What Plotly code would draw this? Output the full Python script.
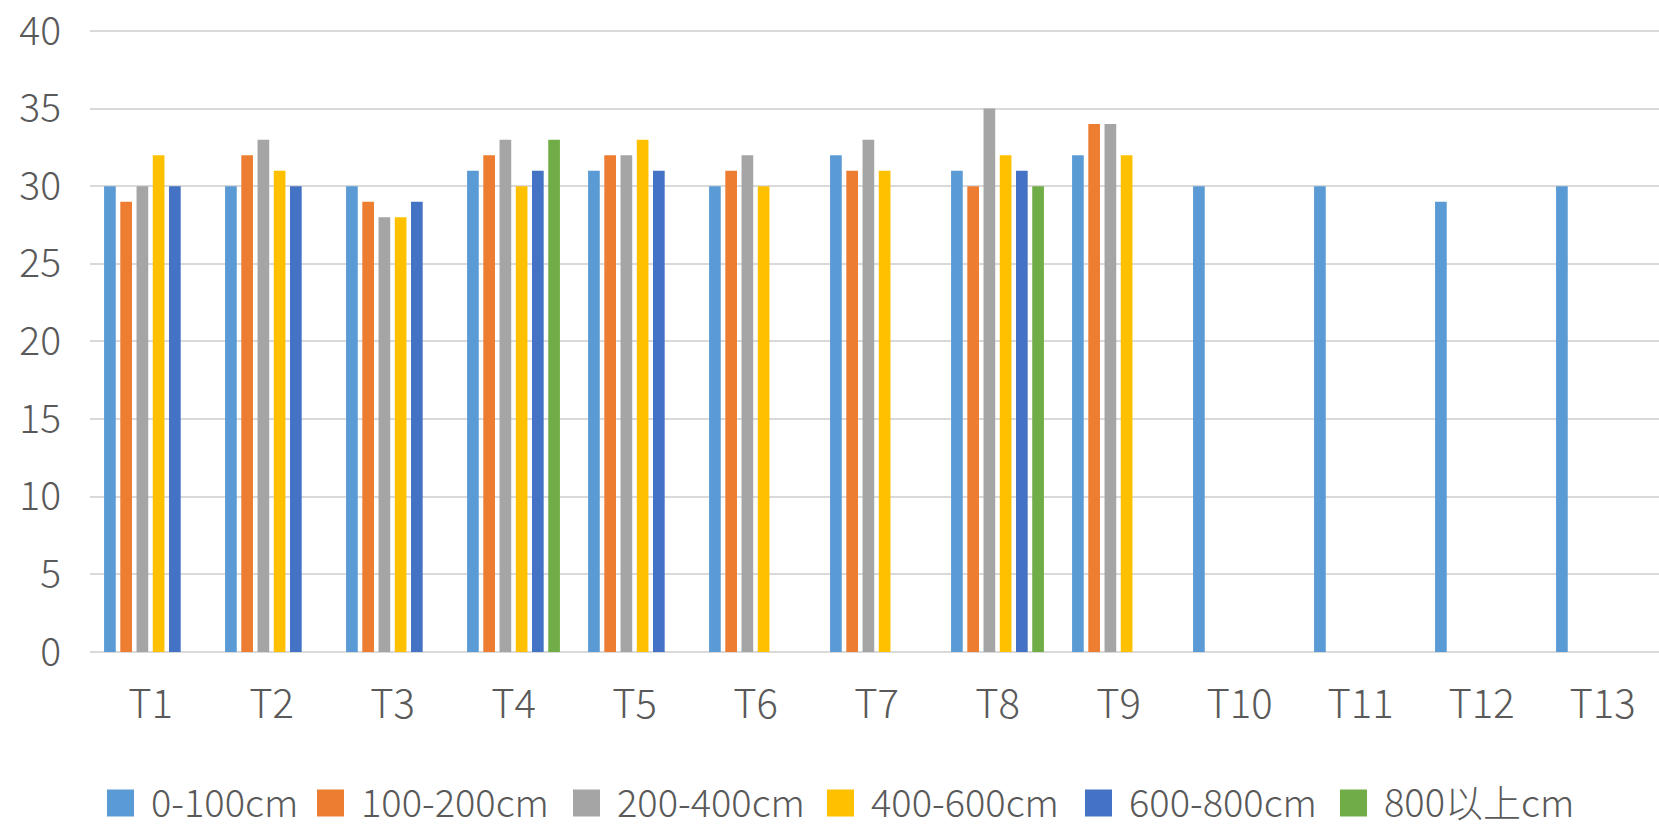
import plotly.graph_objects as go

categories = ["T1", "T2", "T3", "T4", "T5", "T6", "T7", "T8", "T9", "T10", "T11", "T12", "T13"]

s_0_100 = [30, 30, 30, 31, 31, 30, 32, 31, 32, 30, 30, 29, 30]
s_100_200 = [29, 32, 29, 32, 32, 31, 31, 30, 34, None, None, None, None]
s_200_400 = [30, 33, 28, 33, 32, 32, 33, 35, 34, None, None, None, None]
s_400_600 = [32, 31, 28, 30, 33, 30, 31, 32, 32, None, None, None, None]
s_600_800 = [30, 30, 29, 31, 31, None, None, 31, None, None, None, None, None]
s_800_up = [None, None, None, 33, None, None, None, 30, None, None, None, None, None]

series_names = ["0-100cm", "100-200cm", "200-400cm", "400-600cm", "600-800cm", "800以上cm"]
series_values = [s_0_100, s_100_200, s_200_400, s_400_600, s_600_800, s_800_up]
colors = ["#5B9BD5", "#ED7D31", "#A5A5A5", "#FFC000", "#4472C4", "#70AD47"]

y_ticks = [0, 5, 10, 15, 20, 25, 30, 35, 40]

font_family = "Noto Sans CJK SC, Noto Sans, sans-serif"
text_color = "#595959"
fsize = 40
ytick_size = 39
legend_size = 38

# page geometry (pixels)
W, H = 1659, 831
M_L, M_R, M_T, M_B = 90, 0, 28, 179
PLOT_W = W - M_L - M_R
PLOT_H = H - M_T - M_B


def px_x(px):
    return (px - M_L) / PLOT_W


def px_y(py):
    return (H - M_B - py) / PLOT_H


# legend row: left edge of each swatch (px), swatch size, row centre
legend_swatch_left = [107, 317, 573, 827, 1085, 1340]
legend_swatch_size = 27
legend_text_gap = 15
legend_row_y = 803

fig = go.Figure()
for name, vals, col in zip(series_names, series_values, colors):
    fig.add_trace(go.Bar(
        x=categories,
        y=vals,
        name=name,
        marker=dict(color=col, line=dict(width=0)),
    ))

shapes = []
annotations = []
for name, col, sx in zip(series_names, colors, legend_swatch_left):
    shapes.append(dict(
        type="rect",
        xref="paper", yref="paper",
        x0=px_x(sx), x1=px_x(sx + legend_swatch_size),
        y0=px_y(legend_row_y + legend_swatch_size / 2),
        y1=px_y(legend_row_y - legend_swatch_size / 2),
        fillcolor=col,
        line=dict(width=0),
        layer="above",
    ))
    annotations.append(dict(
        xref="paper", yref="paper",
        x=px_x(sx + legend_swatch_size + legend_text_gap),
        y=px_y(legend_row_y - 3),
        xanchor="left",
        yanchor="middle",
        text=name,
        showarrow=False,
        font=dict(family=font_family, size=legend_size, color=text_color, weight=300),
    ))

fig.update_layout(
    width=W,
    height=H,
    autosize=False,
    barmode="group",
    bargap=0.195,
    bargroupgap=0.28,
    plot_bgcolor="white",
    paper_bgcolor="white",
    margin=dict(l=M_L, r=M_R, t=M_T, b=M_B, autoexpand=False),
    font=dict(family=font_family, size=fsize, color=text_color, weight=300),
    showlegend=False,
    shapes=shapes,
    annotations=annotations,
)

fig.update_xaxes(
    type="category",
    range=[-0.5, 12.467],
    automargin=False,
    showgrid=False,
    showline=False,
    zeroline=False,
    ticks="",
    ticklabelstandoff=25,
    tickfont=dict(family=font_family, size=fsize, color=text_color, weight=300),
)

fig.update_yaxes(
    range=[0, 40.19],
    automargin=False,
    tickvals=y_ticks,
    ticklabeloverflow="allow",
    showgrid=True,
    gridcolor="#D9D9D9",
    gridwidth=2,
    zeroline=True,
    zerolinecolor="#D9D9D9",
    zerolinewidth=2,
    showline=False,
    ticks="",
    ticklabelstandoff=28,
    tickfont=dict(family=font_family, size=ytick_size, color=text_color, weight=300),
)

fig.write_html("out.html")
